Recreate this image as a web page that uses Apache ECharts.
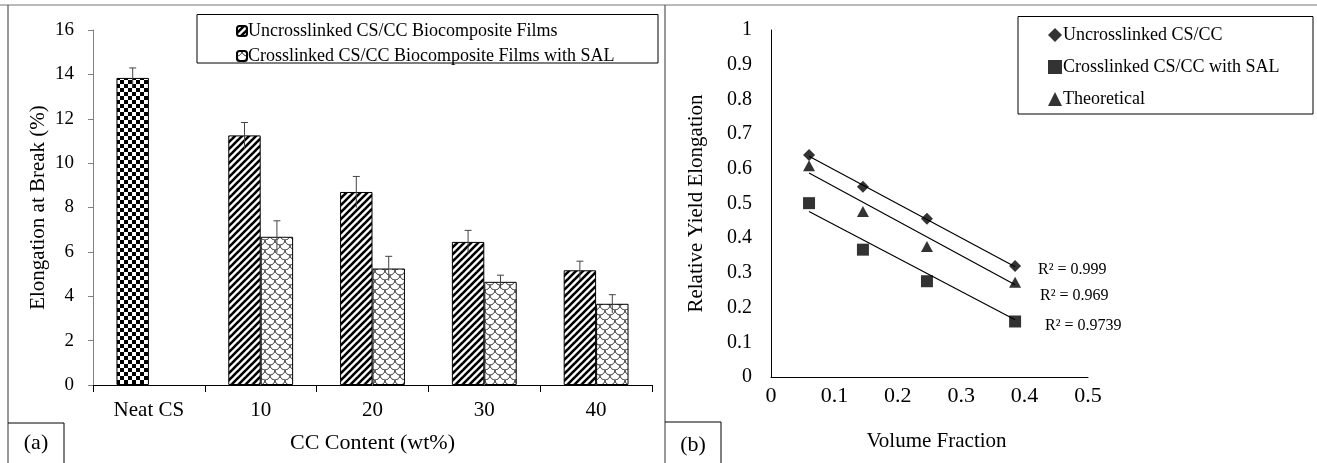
<!DOCTYPE html>
<html>
<head>
<meta charset="utf-8">
<script src="https://cdn.jsdelivr.net/npm/echarts@6/dist/echarts.min.js"></script>
<style>
html,body{margin:0;padding:0;background:#fff;}
#c{width:1317px;height:463px;}
</style>
</head>
<body>
<div id="c"></div>
<script>
// ---------- data (panel a) ----------
var categories = ['Neat CS', '10', '20', '30', '40'];
var uncrossElong = [13.84, 11.25, 8.7, 6.45, 5.17];
var uncrossErr = [0.45, 0.58, 0.7, 0.52, 0.41];
var crossElong = [null, 6.68, 5.25, 4.65, 3.66];
var crossErr = [null, 0.72, 0.55, 0.3, 0.41];
var seriesA1 = 'Uncrosslinked CS/CC Biocomposite Films';
var seriesA2 = 'Crosslinked CS/CC Biocomposite Films with SAL';
var yTicksA = [0, 2, 4, 6, 8, 10, 12, 14, 16];

// ---------- data (panel b) ----------
var volFrac = [0.06, 0.145, 0.246, 0.385];
var relUncross = [0.64, 0.548, 0.456, 0.32];
var relCross = [0.501, 0.367, 0.276, 0.16];
var relTheory = [0.609, 0.477, 0.376, 0.273];
var trendX = [0.06, 0.385];
var trendUncross = [0.636, 0.318];
var trendCross = [0.477, 0.165];
var trendTheory = [0.588, 0.266];
var r2Labels = ['R² = 0.999', 'R² = 0.969', 'R² = 0.9739'];
var seriesB1 = 'Uncrosslinked CS/CC';
var seriesB2 = 'Crosslinked CS/CC with SAL';
var seriesB3 = 'Theoretical';

var FONT = "'Liberation Serif', 'Times New Roman', serif";

// ---------- patterns ----------
function tile(w, h, draw) {
  var c = document.createElement('canvas');
  c.width = w; c.height = h;
  var g = c.getContext('2d');
  g.fillStyle = '#fff'; g.fillRect(0, 0, w, h);
  draw(g, w, h);
  return {image: c, repeat: 'repeat'};
}
var diagPattern = tile(7, 7, function (g, n) {
  g.strokeStyle = '#000'; g.lineWidth = 2.6;
  [0, n, 2 * n].forEach(function (k) {
    g.beginPath(); g.moveTo(-2, k + 2); g.lineTo(k + 2, -2); g.stroke();
  });
});
var checkerPattern = tile(8, 8, function (g) {
  g.fillStyle = '#000';
  g.fillRect(0, 0, 4, 4); g.fillRect(4, 4, 4, 4);
});
var shinglePattern = tile(10, 10, function (g) {
  g.strokeStyle = '#333'; g.lineWidth = 1;
  var rows = [[0, [0, 10]], [5, [5]], [10, [0, 10]]];
  rows.forEach(function (r) {
    r[1].forEach(function (cx) {
      g.beginPath(); g.arc(cx, r[0], 5, 0, Math.PI); g.stroke();
    });
  });
});

// ---------- error bars ----------
var GAP = 0.42;
function errRenderer(sign) {
  return function (params, api) {
    var i = api.value(0), v = api.value(1), e = api.value(2);
    var catW = api.size([1, 0])[0];
    var bw = catW * (1 - GAP) / 2;
    var top = api.coord([i, v + e]);
    var bot = api.coord([i, v - e]);
    var cx = top[0] + sign * bw / 2;
    var st = {stroke: '#444', lineWidth: 1};
    return {
      type: 'group',
      children: [
        {type: 'line', shape: {x1: cx, y1: top[1], x2: cx, y2: bot[1]}, style: st},
        {type: 'line', shape: {x1: cx - 3.5, y1: top[1], x2: cx + 3.5, y2: top[1]}, style: st}
      ]
    };
  };
}
function errData(vals, errs) {
  var out = [];
  vals.forEach(function (v, i) { if (v != null) out.push([i, v, errs[i]]); });
  return out;
}
function pairs(xs, ys) { return xs.map(function (x, i) { return [x, ys[i]]; }); }

var uncrossData = uncrossElong.map(function (v, i) {
  return i === 0 ? {value: v, itemStyle: {color: checkerPattern}} : v;
});
var crossData = crossElong.map(function (v) { return v == null ? '-' : v; });

var chart = echarts.init(document.getElementById('c'), null, {renderer: 'canvas'});
var option = {
  animation: false,
  backgroundColor: '#fff',
  textStyle: {fontFamily: FONT, color: '#000'},
  grid: [
    {left: 93, top: 30, width: 559, height: 355},
    {left: 771, top: 30, width: 317, height: 347}
  ],
  legend: [
    {
      data: [seriesA1, seriesA2], orient: 'vertical', left: 236, top: 22, padding: 0,
      itemWidth: 10, itemHeight: 10, itemGap: 7,
      textStyle: {fontSize: 18, fontFamily: FONT, color: '#000', padding: [0, 0, 0, -4]}
    },
    {
      data: [seriesB1, seriesB2, seriesB3], orient: 'vertical', left: 1048, top: 26, padding: 0,
      itemWidth: 14, itemHeight: 14, itemGap: 14,
      textStyle: {fontSize: 18, fontFamily: FONT, color: '#000', padding: [0, 0, 0, -4]}
    }
  ],
  xAxis: [
    {
      type: 'category', gridIndex: 0, data: categories,
      axisLine: {lineStyle: {color: '#000', width: 1}},
      axisTick: {show: true, length: 7, lineStyle: {color: '#000'}},
      axisLabel: {fontSize: 21, margin: 15, color: '#000', fontFamily: FONT},
      name: 'CC Content (wt%)', nameLocation: 'middle', nameGap: 47,
      nameTextStyle: {fontSize: 22, color: '#000', fontFamily: FONT}
    },
    {
      type: 'value', gridIndex: 1, min: 0, max: 0.5, interval: 0.1,
      axisLine: {show: true, lineStyle: {color: '#000', width: 1}},
      axisTick: {show: false}, splitLine: {show: false},
      axisLabel: {fontSize: 22, margin: 8, color: '#000', fontFamily: FONT},
      name: 'Volume Fraction', nameLocation: 'middle', nameGap: 54,
      nameTextStyle: {fontSize: 21, color: '#000', fontFamily: FONT, padding: [0, 0, 0, 14]}
    }
  ],
  yAxis: [
    {
      type: 'value', gridIndex: 0, min: yTicksA[0], max: yTicksA[yTicksA.length - 1], interval: 2,
      axisLine: {show: true, lineStyle: {color: '#808080', width: 1}},
      axisTick: {show: true, length: 5, lineStyle: {color: '#808080'}},
      splitLine: {show: false},
      axisLabel: {fontSize: 19, margin: 19, color: '#000', fontFamily: FONT},
      name: 'Elongation at Break (%)', nameLocation: 'middle', nameGap: 44,
      nameTextStyle: {fontSize: 21, color: '#000', fontFamily: FONT}
    },
    {
      type: 'value', gridIndex: 1, min: 0, max: 1, interval: 0.1,
      axisLine: {show: true, lineStyle: {color: '#000', width: 1}},
      axisTick: {show: false}, splitLine: {show: false},
      axisLabel: {fontSize: 20, margin: 19, color: '#000', fontFamily: FONT},
      name: 'Relative Yield Elongation', nameLocation: 'middle', nameGap: 64,
      nameTextStyle: {fontSize: 21, color: '#000', fontFamily: FONT}
    }
  ],
  series: [
    {
      name: seriesA1, type: 'bar', xAxisIndex: 0, yAxisIndex: 0, data: uncrossData,
      barGap: '0%', barCategoryGap: (GAP * 100) + '%',
      itemStyle: {color: diagPattern, borderColor: '#000', borderWidth: 1}
    },
    {
      name: seriesA2, type: 'bar', xAxisIndex: 0, yAxisIndex: 0, data: crossData,
      barGap: '0%', barCategoryGap: (GAP * 100) + '%',
      itemStyle: {color: shinglePattern, borderColor: '#000', borderWidth: 1}
    },
    {
      type: 'custom', xAxisIndex: 0, yAxisIndex: 0, silent: true, z: 5,
      renderItem: errRenderer(-1), data: errData(uncrossElong, uncrossErr)
    },
    {
      type: 'custom', xAxisIndex: 0, yAxisIndex: 0, silent: true, z: 5,
      renderItem: errRenderer(1), data: errData(crossElong, crossErr)
    },
    {
      name: seriesB1, type: 'scatter', xAxisIndex: 1, yAxisIndex: 1,
      symbol: 'diamond', symbolSize: 12, itemStyle: {color: '#000'}, z: 4,
      data: pairs(volFrac, relUncross)
    },
    {
      name: seriesB2, type: 'scatter', xAxisIndex: 1, yAxisIndex: 1,
      symbol: 'rect', symbolSize: 12, itemStyle: {color: '#000'}, z: 4,
      data: pairs(volFrac, relCross)
    },
    {
      name: seriesB3, type: 'scatter', xAxisIndex: 1, yAxisIndex: 1,
      symbol: 'triangle', symbolSize: [12, 11], itemStyle: {color: '#000'}, z: 4,
      data: pairs(volFrac, relTheory)
    },
    {
      type: 'line', xAxisIndex: 1, yAxisIndex: 1, silent: true, symbol: 'none',
      lineStyle: {color: '#000', width: 1.2}, data: pairs(trendX, trendUncross)
    },
    {
      type: 'line', xAxisIndex: 1, yAxisIndex: 1, silent: true, symbol: 'none',
      lineStyle: {color: '#000', width: 1.2}, data: pairs(trendX, trendCross)
    },
    {
      type: 'line', xAxisIndex: 1, yAxisIndex: 1, silent: true, symbol: 'none',
      lineStyle: {color: '#000', width: 1.2}, data: pairs(trendX, trendTheory)
    }
  ]
};
chart.setOption(option);

// ---------- decorations & R² labels ----------
function px(x, y) { return chart.convertToPixel({xAxisIndex: 1, yAxisIndex: 1}, [x, y]); }
var endU = px(trendX[1], trendUncross[1]);
var endT = px(trendX[1], trendTheory[1]);
var endC = px(trendX[1], trendCross[1]);
var frame = {stroke: '#555', lineWidth: 1.2};
var thin = {stroke: '#000', lineWidth: 1};
function ln(x1, y1, x2, y2, st) { return {type: 'line', silent: true, shape: {x1: x1, y1: y1, x2: x2, y2: y2}, style: st}; }
function txt(x, y, s, size, align) {
  return {type: 'text', silent: true, x: x, y: y,
    style: {text: s, fontSize: size, fontFamily: FONT, fill: '#000', align: align || 'left', verticalAlign: 'middle'}};
}
chart.setOption({
  graphic: [
    ln(0, 5, 1317, 5, {stroke: '#777', lineWidth: 1.2}),
    ln(8, 5, 8, 463, frame),
    ln(665, 5, 665, 463, frame),
    {type: 'rect', silent: true, shape: {x: 197, y: 14.5, width: 461, height: 48.5}, style: {fill: 'none', stroke: '#000', lineWidth: 1}},
    {type: 'rect', silent: true, shape: {x: 1018, y: 16.5, width: 295, height: 97.5}, style: {fill: 'none', stroke: '#000', lineWidth: 1}},
    ln(8, 423, 64, 423, thin), ln(64, 423, 64, 463, thin),
    ln(665, 422, 721, 422, thin), ln(721, 422, 721, 463, thin),
    txt(36, 443, '(a)', 22, 'center'),
    txt(693, 445, '(b)', 22, 'center'),
    txt(endU[0] + 23, endU[1] + 3, r2Labels[0], 16),
    txt(endT[0] + 25, endT[1] + 11, r2Labels[1], 16),
    txt(endC[0] + 30, endC[1] + 6, r2Labels[2], 16)
  ]
});
</script>
</body>
</html>
